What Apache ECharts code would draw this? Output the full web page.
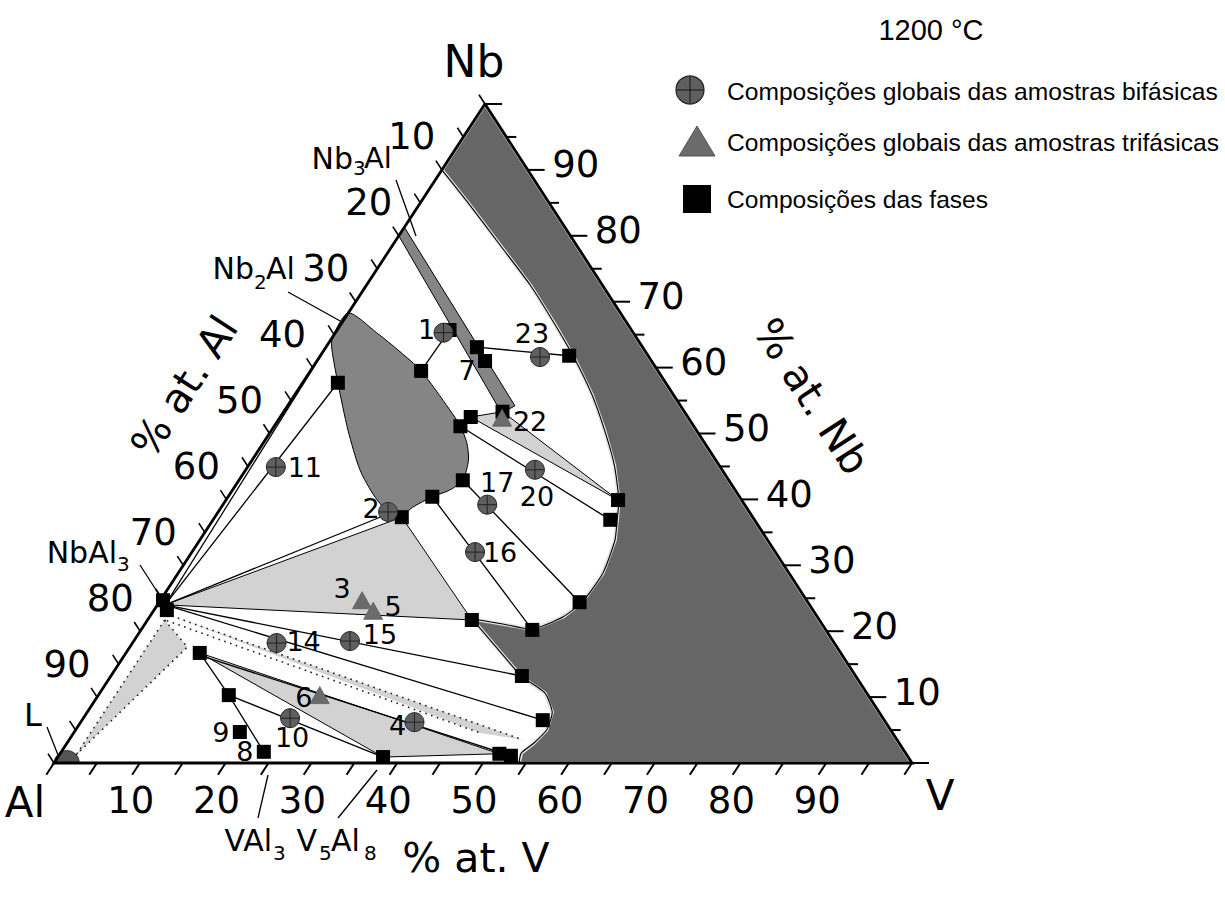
<!DOCTYPE html>
<html><head><meta charset="utf-8">
<script src="https://cdn.jsdelivr.net/npm/echarts@6/dist/echarts.min.js"></script>
<style>html,body{margin:0;padding:0;background:#fff}#chart{width:1225px;height:902px}</style>
</head><body><div id="chart"></div>
<script>
// ===== DATA (compositions as [at.% V, at.% Nb]) =====
const tickValues = [0,5,10,15,20,25,30,35,40,45,50,55,60,65,70,75,80,85,90,95,100];
const tickLabelValues = [10,20,30,40,50,60,70,80,90];
const vertexNames = ['Al','V','Nb'];
const axisTitles = ['% at. V','% at. Al','% at. Nb'];
const temperature = '1200 °C';
const legendNames = ['Composições globais das amostras bifásicas','Composições globais das amostras trifásicas','Composições das fases'];

const cccBoundaryUpper = [[0,90],[5.9,84.7],[12.5,78.6],[19.1,72.5],[25.0,66.5],[30.0,61.2],[34.7,55.8],[38.8,50.5],[42.6,45.2],[45.8,39.9],[47.1,36.9],[48.4,33.8],[49.5,28.8],[49.3,24.4],[48.2,22.2],[45.6,20.3],[41.7,21.1],[37.7,21.9]];
const cccBoundaryStraight = [[37.7,21.9],[48.0,13.0]];
const cccBoundaryLower = [[48.0,13.0],[51.9,10.6],[54.2,7.7],[54.9,5.0],[54.4,3.0],[53.7,1.5],[54.2,0]];
const cccRegion = [[0,100]].concat(cccBoundaryUpper, cccBoundaryLower, [[100,0]]);
const sigmaRegion = [[0,64.6],[0,68.3],[4.8,65.3],[9.0,62.4],[12.9,59.5],[19.2,53.6],[21.7,51.1],[23.7,48.6],[25.2,46.0],[26.1,42.9],[25.3,41.4],[23.8,40.4],[22.3,38.8],[21.7,37.6],[20.1,37.9],[17.1,40.4],[13.3,44.5],[8.9,50.5],[4.1,57.7],[0.9,62.7]];
const nb3alRegion = [[0,80.0],[0,81.3],[26.5,54.2],[25.5,53.1]];
const threePhaseA = [[22.2,52.5],[25.5,53.3],[45.7,39.9]];
const threePhaseB = [[0.9,24.0],[21.8,37.3],[37.8,21.7]];
const threePhaseC = [[8.6,16.7],[37.9,0.9],[51.2,1.4]];
const wedgeL = [[2.0,21.7],[6.7,17.6],[1.96,1.2]];
const bandD = [[2.55,22.3],[52.9,3.5],[47.4,4.55]];
const liquidCenter = [1.5,0];

const tieLines = [
  [[12.9,59.5],[13.1,65.7]],
  [[17.6,63.1],[29.0,61.8]],
  [[21.7,51.1],[46.3,36.9]],
  [[26.1,42.9],[49.0,24.4]],
  [[23.8,40.4],[45.6,20.2]],
  [[0.9,24.0],[20.1,37.9]],
  [[0.9,24.0],[4.1,57.7]],
  [[0.9,24.0],[0,64.6]],
  [[0.9,24.0],[47.9,13.2]],
  [[0.9,24.0],[53.7,6.5]],
  [[8.6,16.7],[15.2,10.3],[23.6,1.7]],
  [[15.2,10.3],[37.9,0.9]],
  [[8.9,16.3],[52.7,1.1]]
];
const dottedLines = [
  [[2.0,21.7],[1.96,1.2]],
  [[2.0,21.7],[6.7,17.6],[1.96,1.2]],
  [[2.55,22.3],[52.9,3.5]],
  [[2.3,21.6],[47.4,4.55]]
];

const bifasicas = [[12.6,65.3,'1'],[19.8,38.1,'2'],[38.9,6.2,'4'],[24.1,6.8,'10'],[3.3,44.9,'11'],[16.8,18.2,'14'],[25.2,18.5,'15'],[33.0,32.0,'16'],[30.8,39.2,'17'],[33.7,44.5,'20'],[25.7,61.6,'23']];
const trifasicas = [[23.5,24.7,'3'],[25.6,23.1,'5'],[25.8,10.3,'6'],[25.9,52.4,'22']];
const fases = [[13.1,65.7,''],[17.6,63.1,''],[19.6,61.0,'7'],[29.0,61.8,''],[12.9,59.5,''],[22.2,52.5,''],[21.7,51.1,''],[25.5,53.3,''],[45.7,39.9,''],[46.3,36.9,''],[26.1,42.9,''],[23.8,40.4,''],[21.8,37.3,''],[49.0,24.4,''],[45.6,20.2,''],[37.8,21.7,''],[47.9,13.2,''],[53.7,6.5,''],[4.1,57.7,''],[0.3,24.7,''],[1.5,23.2,''],[8.6,16.7,''],[15.2,10.3,''],[19.3,4.7,'9'],[23.6,1.7,'8'],[37.9,0.9,''],[51.2,1.4,''],[52.7,1.1,'']];

// ===== STYLE / LAYOUT =====
const NB_APEX_X = 50.23;               // horizontal position of the Nb apex (fraction of base, %)
const xy = p => [p[0] + p[1]*NB_APEX_X/100, p[1]];
const F_AX = '"DejaVu Sans", Verdana, sans-serif';
const F_LEG = '"Liberation Sans", Arial, sans-serif';
const C_DARK = '#666666', C_MID = '#858585', C_LIGHT = '#d2d2d2';
const labelOffset = {'1':[-17,-3],'2':[-17,-3],'4':[-17,3],'10':[2,19],'11':[29,0],'14':[27,-2],'15':[30,-7],'16':[25,0],'17':[10,-22],'20':[2,27],'23':[-8,-24],'3':[-20,-12],'5':[20,-4],'6':[-16,2],'22':[28,4],'7':[-18,9],'9':[-19,0],'8':[-19,0]};

const pc = (api,p) => api.coord(xy(p));
function once(z, build){
  return {type:'custom', coordinateSystem:'cartesian2d', silent:true, z:z, clip:false, data:[[0,0]],
          renderItem:(params, api)=>build(api)};
}
function poly(pts, style, z, smooth){ return once(z, api=>({type:'polygon', shape:{points:pts.map(p=>pc(api,p)), smooth:smooth||0}, style:style})); }
function lines(list, style, z, smooth){ return once(z, api=>({type:'group', children:list.map(l=>({type:'polyline', shape:{points:l.map(p=>pc(api,p)), smooth:smooth||0}, style:Object.assign({fill:null}, style)}))})); }
function txt(x,y,text,size,opts){ return Object.assign({type:'text', x:x, y:y, style:{text:text, font:size+'px '+F_AX, lineHeight:Math.round(size*0.78), fill:'#000', align:'center', verticalAlign:'middle'}}, opts||{}); }

function axesBuild(api){
  const A = pc(api,[0,0]), B = pc(api,[100,0]), C = pc(api,[0,100]);
  const unit=(p,q)=>{const dx=q[0]-p[0],dy=q[1]-p[1],l=Math.hypot(dx,dy);return [dx/l,dy/l];};
  const dB = unit(C,A), dR = unit(A,B), dL = unit(B,C);
  const ch = [];
  const seg=(p,d,len,w)=>({type:'line', shape:{x1:p[0],y1:p[1],x2:p[0]+d[0]*len,y2:p[1]+d[1]*len}, style:{stroke:'#000', lineWidth:w}});
  ch.push({type:'polyline', shape:{points:[C,A,B,C]}, style:{fill:null, stroke:'#000', lineWidth:2.8, lineJoin:'miter'}});
  tickValues.forEach(t=>{
    const major = t%10===0;
    ch.push(seg(pc(api,[t,0]), dB, 14, 2));
    ch.push(seg(pc(api,[100-t,t]), dR, major?17:10, 2));
    ch.push(seg(pc(api,[0,100-t]), dL, 11, 1.6));
  });
  tickLabelValues.forEach(t=>{
    const pb = pc(api,[t,0]), pr = pc(api,[100-t,t]), pl = pc(api,[0,100-t]);
    ch.push(txt(pb[0]-9, pb[1]+37, String(t), 37));
    ch.push(txt(pr[0]+48, pr[1]-5, String(t), 37));
    ch.push(txt(pl[0]-30, pl[1]-33, String(t), 37));
  });
  ch.push(txt(A[0]-29, A[1]+39, vertexNames[0], 42));
  ch.push(txt(B[0]+28, B[1]+32, vertexNames[1], 42));
  ch.push(txt(C[0]-11, C[1]-43, vertexNames[2], 44));
  ch.push(txt((A[0]+B[0])/2-7, A[1]+95, axisTitles[0], 41));
  const angL = Math.atan2(A[1]-C[1], C[0]-A[0]);
  const angR = Math.atan2(B[1]-C[1], B[0]-C[0]);
  ch.push(txt((A[0]+C[0])/2-85, (A[1]+C[1])/2-47, axisTitles[1], 41, {rotation: angL}));
  ch.push(txt((B[0]+C[0])/2+113, (B[1]+C[1])/2-37, axisTitles[2], 41, {rotation: -angR}));
  return {type:'group', children:ch};
}

function markerSeries(list, z, draw){
  return {type:'custom', coordinateSystem:'cartesian2d', silent:true, z:z, clip:false,
    data: list.map(d=>[d[0], d[1]]),
    renderItem:(params, api)=>{
      const p = pc(api,[api.value(0), api.value(1)]);
      const lbl = list[params.dataIndex][2];
      const ch = draw(p);
      if (lbl){ const o = labelOffset[lbl]; ch.push(txt(p[0]+o[0], p[1]+o[1], lbl, 27)); }
      return {type:'group', children:ch};
    }};
}
const drawCircle = (p,r)=>[
  {type:'circle', shape:{cx:p[0],cy:p[1],r:r}, style:{fill:'#5f5f5f', stroke:'#2a2a2a', lineWidth:1}},
  {type:'line', shape:{x1:p[0]-r,y1:p[1],x2:p[0]+r,y2:p[1]}, style:{stroke:'#222',lineWidth:1}},
  {type:'line', shape:{x1:p[0],y1:p[1]-r,x2:p[0],y2:p[1]+r}, style:{stroke:'#222',lineWidth:1}}];
const drawTri = (p,w,h)=>[{type:'polygon', shape:{points:[[p[0],p[1]-h/2],[p[0]+w/2,p[1]+h/2],[p[0]-w/2,p[1]+h/2]]}, style:{fill:'#6b6b6b', stroke:'#5a5a5a', lineWidth:0.8}}];
const drawSq = (p,s)=>[{type:'rect', shape:{x:p[0]-s/2,y:p[1]-s/2,width:s,height:s}, style:{fill:'#000'}}];

const series = [
  poly(wedgeL, {fill:C_LIGHT}, 1),
  poly(bandD, {fill:C_LIGHT}, 1),
  poly(threePhaseA, {fill:C_LIGHT, stroke:'#000', lineWidth:1}, 1),
  poly(threePhaseB, {fill:C_LIGHT, stroke:'#000', lineWidth:1}, 1),
  poly(threePhaseC, {fill:C_LIGHT, stroke:'#000', lineWidth:1}, 1),
  poly(sigmaRegion, {fill:C_MID, stroke:'#000', lineWidth:1}, 2, 0.25),
  poly(nb3alRegion, {fill:C_MID, stroke:'#000', lineWidth:1}, 2),
  poly(cccRegion, {fill:C_DARK, stroke:'#e4e4e4', lineWidth:3.6, lineJoin:'round'}, 2),
  lines([cccBoundaryUpper, cccBoundaryLower], {stroke:'#000', lineWidth:1.1}, 2.5, 0.2),
  lines([cccBoundaryStraight], {stroke:'#000', lineWidth:1.1}, 2.5),
  once(2, api=>{ const c = pc(api, liquidCenter); return {type:'sector', shape:{cx:c[0], cy:c[1], r0:0, r:12.5, startAngle:Math.PI, endAngle:2*Math.PI}, style:{fill:'#555', stroke:'#333', lineWidth:1}}; }),
  lines(tieLines, {stroke:'#000', lineWidth:1.3}, 3),
  lines(dottedLines, {stroke:'#222', lineWidth:1.6, lineDash:[1.6,4.5]}, 3),
  markerSeries(fases, 4, p=>drawSq(p,14)),
  markerSeries(bifasicas, 5, p=>drawCircle(p,9.5)),
  markerSeries(trifasicas, 5, p=>drawTri(p,19,17)),
  once(6, axesBuild)
];

const sub = (x,y,t)=>({type:'text', x:x, y:y, style:{text:t, font:'20px '+F_AX, lineHeight:15, fill:'#000', align:'left', verticalAlign:'middle'}});
const main = (x,y,t,align,size)=>({type:'text', x:x, y:y, style:{text:t, font:(size||31)+'px '+F_AX, lineHeight:Math.round((size||31)*0.8), fill:'#000', align:align, verticalAlign:'middle'}});
const lead = (x1,y1,x2,y2)=>({type:'line', shape:{x1,y1,x2,y2}, style:{stroke:'#000', lineWidth:1.3}});

const graphic = [
  {type:'text', x:931, y:30, style:{text:temperature, font:'29px '+F_LEG, fill:'#000', align:'center', verticalAlign:'middle'}},
  {type:'group', x:690, y:90, children:[
    {type:'circle', shape:{cx:0,cy:0,r:14}, style:{fill:'#5f5f5f', stroke:'#222', lineWidth:1.2}},
    {type:'line', shape:{x1:-14,y1:0,x2:14,y2:0}, style:{stroke:'#222', lineWidth:1.2}},
    {type:'line', shape:{x1:0,y1:-14,x2:0,y2:14}, style:{stroke:'#222', lineWidth:1.2}}]},
  {type:'polygon', shape:{points:[[697,126],[715,156],[679,156]]}, style:{fill:'#6b6b6b', stroke:'#555', lineWidth:1}},
  {type:'rect', shape:{x:683, y:185, width:28, height:28}, style:{fill:'#000'}},
  {type:'text', x:727, y:91, style:{text:legendNames[0], font:'24.6px '+F_LEG, fill:'#000', align:'left', verticalAlign:'middle'}},
  {type:'text', x:727, y:142, style:{text:legendNames[1], font:'24.6px '+F_LEG, fill:'#000', align:'left', verticalAlign:'middle'}},
  {type:'text', x:727, y:199, style:{text:legendNames[2], font:'24.6px '+F_LEG, fill:'#000', align:'left', verticalAlign:'middle'}},
  // phase annotations
  main(353,158,'Nb','right',30), sub(353,168,'3'), main(364,158,'Al','left',29), lead(396,180,416,236),
  main(254,268,'Nb','right',30), sub(254,282,'2'), main(266,268,'Al','left',30), lead(288,292,360,332),
  main(117,552,'NbAl','right',30), sub(117,564,'3'), lead(140,565,158,593),
  main(33,715,'L','center',32), lead(47,727,58,755),
  main(272,840,'VAl','right',30), sub(273,853,'3'),
  main(317,840,'V','right',30), sub(319,853,'5'), main(331,840,'Al','left',30), sub(364,853,'8'),
  lead(258,818,268,775), lead(338,818,377,770),
  {type:'text', x:697, y:630, style:{text:'CCC', font:'36px '+F_AX, fill:'#f2f2f2', align:'center', verticalAlign:'middle'}}
];

const chart = echarts.init(document.getElementById('chart'), null, {renderer:'svg'});
chart.setOption({
  animation:false,
  grid:{left:54, right:313, top:104, bottom:139},
  xAxis:{type:'value', min:0, max:100, show:false},
  yAxis:{type:'value', min:0, max:100, show:false},
  series: series,
  graphic: graphic
});
</script></body></html>
